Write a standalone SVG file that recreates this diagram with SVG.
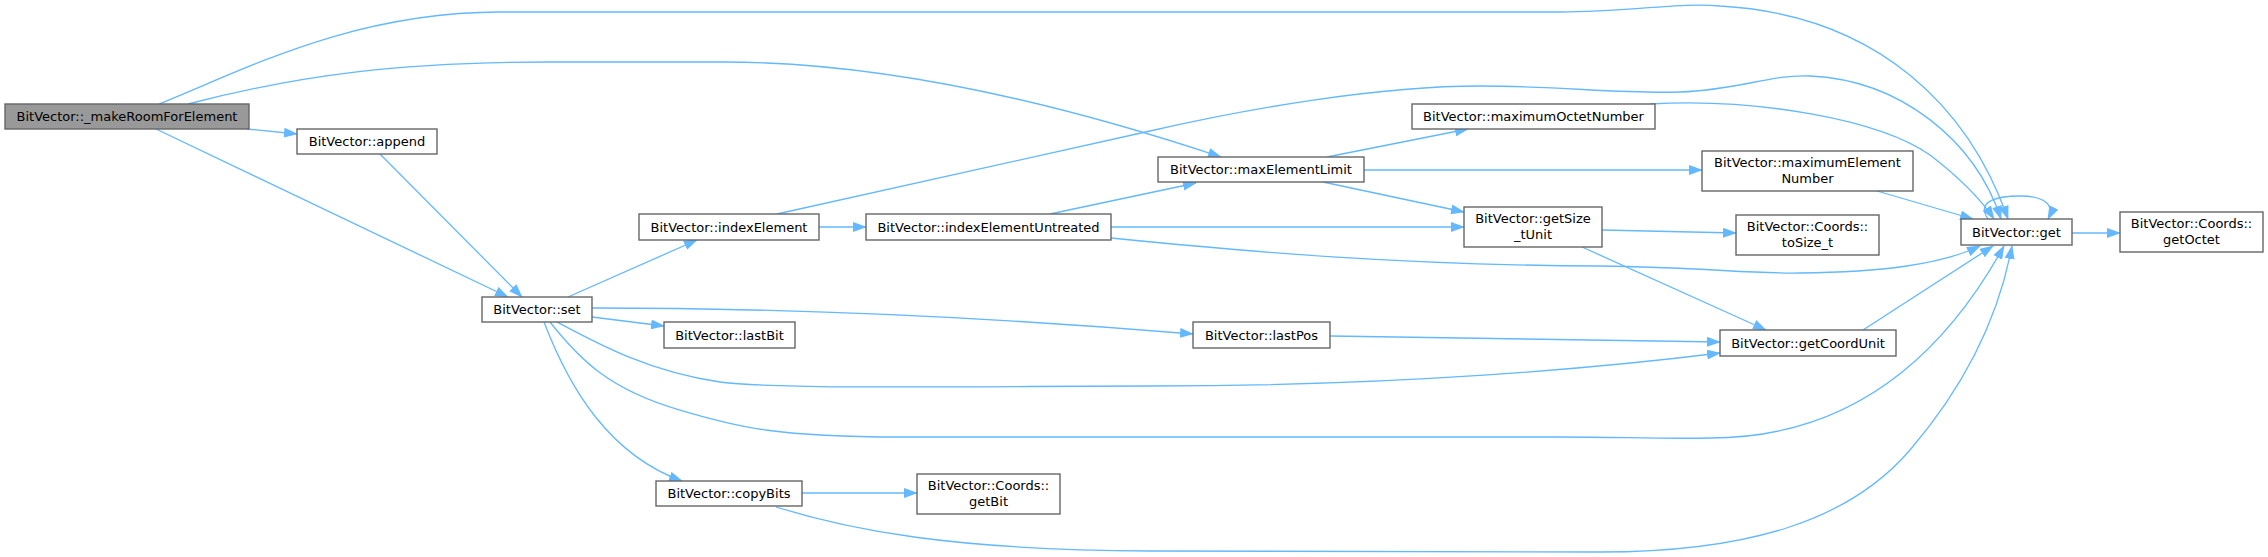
<svg xmlns="http://www.w3.org/2000/svg" width="2268" height="557" viewBox="0 0 2268 557">
<style>
.node rect{fill:#fff;stroke:#666;stroke-width:1.4}
.hl rect{fill:#999}
text{font-family:'DejaVu Sans','Liberation Sans',sans-serif;font-size:13px;text-anchor:middle;fill:#000}
.edges path{fill:none;stroke:#63b8ff;stroke-width:1.3}
</style>
<defs>
<marker id="ah" markerUnits="userSpaceOnUse" markerWidth="14" markerHeight="10" viewBox="0 0 14 10" refX="13" refY="5" orient="auto">
<path d="M0,0 L14,5 L0,10 z" fill="#63b8ff"/>
</marker>
</defs>
<rect width="2268" height="557" fill="#fff"/>
<g class="edges" marker-end="url(#ah)">
<path d="M159,104 C240,72 350,12 500,12 L1560,12 C1630,12 1680,2 1720,6 C1880,15 1970,110 2008,219"/>
<path d="M188,104 C300,75 400,62 550,62 L724,62 C900,62 1080,110 1221,157"/>
<path d="M247,129 L297,134"/>
<path d="M156,129 L508,297"/>
<path d="M380,154 L522,297"/>
<path d="M568,297 L697,240"/>
<path d="M592,317 L664,326"/>
<path d="M592,308 C800,308 1000,318 1193,334"/>
<path d="M557,322 C600,345 650,372 720,382 C780,390 1000,386 1150,386 C1400,386 1600,368 1720,353"/>
<path d="M550,322 C580,360 610,390 680,410 C740,428 780,437 900,437 L1560,437 C1620,437 1660,439 1710,438 C1830,438 1930,380 2004,246"/>
<path d="M544,322 C570,390 610,455 682,481"/>
<path d="M802,493 L917,493"/>
<path d="M776,507 C850,530 950,550 1150,551 L1600,552 C1750,552 1850,520 1910,450 C1970,380 2000,310 2012,246"/>
<path d="M819,227 L866,227"/>
<path d="M777,214 L1150,131 C1250,108 1380,86 1480,86 C1560,86 1620,94 1680,92 C1740,90 1770,74 1810,76 C1900,80 1975,140 2001,219"/>
<path d="M1050,214 L1196,183"/>
<path d="M1111,227 L1464,227"/>
<path d="M1111,238 C1250,252 1400,265 1600,266 C1700,267 1750,274 1800,273 C1880,272 1940,265 1980,246"/>
<path d="M1327,157 L1468,129"/>
<path d="M1364,170 L1702,170"/>
<path d="M1323,182 L1464,212"/>
<path d="M1650,104 C1760,98 1880,120 1930,155 C1960,178 1980,198 1994,219"/>
<path d="M1877,191 L1973,219"/>
<path d="M1602,230 L1736,233"/>
<path d="M1582,247 L1766,330"/>
<path d="M1330,336 L1720,342"/>
<path d="M1863,330 L1993,246"/>
<path d="M1988,219 C1975,200 2000,196 2020,196 C2045,196 2055,205 2048,219"/>
<path d="M2072,233 L2120,233"/>
</g>
<g id="n_makeRoom" class="node hl"><rect x="5" y="104" width="244" height="25"/><text x="127" y="121">BitVector::_makeRoomForElement</text></g>
<g id="n_append" class="node"><rect x="297" y="129" width="140" height="25"/><text x="367" y="146">BitVector::append</text></g>
<g id="n_set" class="node"><rect x="482" y="297" width="110" height="25"/><text x="537" y="314">BitVector::set</text></g>
<g id="n_indexElement" class="node"><rect x="639" y="214" width="180" height="26"/><text x="729" y="231.5">BitVector::indexElement</text></g>
<g id="n_indexElementUntreated" class="node"><rect x="866" y="214" width="245" height="26"/><text x="988.5" y="231.5">BitVector::indexElementUntreated</text></g>
<g id="n_maxElementLimit" class="node"><rect x="1158" y="157" width="206" height="25"/><text x="1261" y="174">BitVector::maxElementLimit</text></g>
<g id="n_maximumOctetNumber" class="node"><rect x="1412" y="104" width="243" height="25"/><text x="1533.5" y="121">BitVector::maximumOctetNumber</text></g>
<g id="n_getSize_tUnit" class="node"><rect x="1464" y="207" width="138" height="40"/><text x="1533" y="222.5">BitVector::getSize</text><text x="1533" y="238.5">_tUnit</text></g>
<g id="n_maximumElementNumber" class="node"><rect x="1702" y="151" width="211" height="40"/><text x="1807.5" y="166.5">BitVector::maximumElement</text><text x="1807.5" y="182.5">Number</text></g>
<g id="n_toSize_t" class="node"><rect x="1736" y="215" width="143" height="40"/><text x="1807.5" y="230.5">BitVector::Coords::</text><text x="1807.5" y="246.5">toSize_t</text></g>
<g id="n_get" class="node"><rect x="1961" y="219" width="111" height="26"/><text x="2016.5" y="236.5">BitVector::get</text></g>
<g id="n_getOctet" class="node"><rect x="2120" y="212" width="143" height="40"/><text x="2191.5" y="227.5">BitVector::Coords::</text><text x="2191.5" y="243.5">getOctet</text></g>
<g id="n_lastBit" class="node"><rect x="664" y="322" width="131" height="26"/><text x="729.5" y="339.5">BitVector::lastBit</text></g>
<g id="n_lastPos" class="node"><rect x="1193" y="322" width="137" height="26"/><text x="1261.5" y="339.5">BitVector::lastPos</text></g>
<g id="n_getCoordUnit" class="node"><rect x="1720" y="330" width="176" height="26"/><text x="1808" y="347.5">BitVector::getCoordUnit</text></g>
<g id="n_copyBits" class="node"><rect x="656" y="481" width="146" height="25"/><text x="729" y="498">BitVector::copyBits</text></g>
<g id="n_getBit" class="node"><rect x="917" y="474" width="143" height="40"/><text x="988.5" y="489.5">BitVector::Coords::</text><text x="988.5" y="505.5">getBit</text></g>
</svg>
